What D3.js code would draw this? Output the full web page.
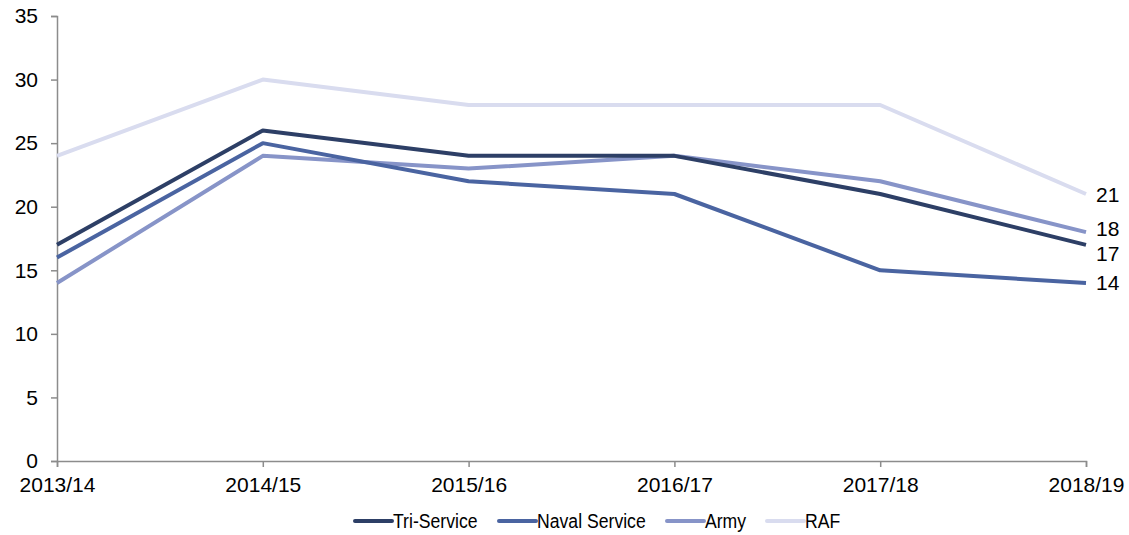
<!DOCTYPE html>
<html>
<head>
<meta charset="utf-8">
<script src="https://cdn.jsdelivr.net/npm/d3@7"></script>
<style>
body{margin:0;background:#fff;}
text{font-family:"Liberation Sans",Arial,sans-serif;}
</style>
</head>
<body>
<script>
var years=["2013/14","2014/15","2015/16","2016/17","2017/18","2018/19"];
var seriesNames=["Tri-Service","Naval Service","Army","RAF"];
var triService=[17,26,24,24,21,17];
var navalService=[16,25,22,21,15,14];
var army=[14,24,23,24,22,18];
var raf=[24,30,28,28,28,21];
var yTicks=[0,5,10,15,20,25,30,35];
var colors=["#2d3f66","#4a64a1","#8794c8","#d9dcef"];

var width=1129,height=535;
var svg=d3.select("body").append("svg")
  .attr("width",width)
  .attr("height",height);

var x=d3.scalePoint().domain(years).range([57,1086]);
var y=d3.scaleLinear().domain([0,35]).range([461,16]);

var yAxis=svg.append("g")
  .attr("transform","translate(57,0)")
  .call(d3.axisLeft(y).tickValues(yTicks).tickSize(6).tickPadding(13));
var xAxis=svg.append("g")
  .attr("transform","translate(0,461)")
  .call(d3.axisBottom(x).tickSize(6).tickPadding(10));

[xAxis,yAxis].forEach(function(a){
  a.select(".domain").attr("stroke","#8c8c8c").attr("stroke-width",1.5);
  a.selectAll(".tick line").attr("stroke","#8c8c8c").attr("stroke-width",1.5);
  a.selectAll(".tick text").attr("fill","#000").attr("font-size",21)
   .attr("font-family","Liberation Sans, Arial, sans-serif");
});

var allData=[triService,navalService,army,raf];
// draw RAF first so darker lines sit on top
var order=[3,2,1,0];
var line=d3.line()
  .x(function(d,i){return x(years[i]);})
  .y(function(d){return y(d);});

order.forEach(function(k){
  svg.append("path")
    .datum(allData[k])
    .attr("fill","none")
    .attr("stroke",colors[k])
    .attr("stroke-width",4)
    .attr("stroke-linejoin","round")
    .attr("d",line);
});

// end labels, nudged apart where they would overlap
var nudge=[9,0,-3,1];
allData.forEach(function(vals,k){
  var v=vals[vals.length-1];
  svg.append("text")
    .text(v)
    .attr("x",x(years[years.length-1])+10)
    .attr("y",y(v)+nudge[k])
    .attr("dy","0.35em")
    .attr("font-size",21)
    .attr("fill","#000");
});

// legend
var legendX=[355,499,667,767];
var legend=svg.append("g");
seriesNames.forEach(function(name,k){
  legend.append("line")
    .attr("x1",legendX[k])
    .attr("x2",legendX[k]+37)
    .attr("y1",521)
    .attr("y2",521)
    .attr("stroke",colors[k])
    .attr("stroke-width",4)
    .attr("stroke-linecap","round");
  legend.append("text")
    .text(name)
    .attr("transform","translate("+(legendX[k]+38)+",521) scale(0.84,1)")
    .attr("dy","0.35em")
    .attr("font-size",21)
    .attr("fill","#000");
});
</script>
</body>
</html>
